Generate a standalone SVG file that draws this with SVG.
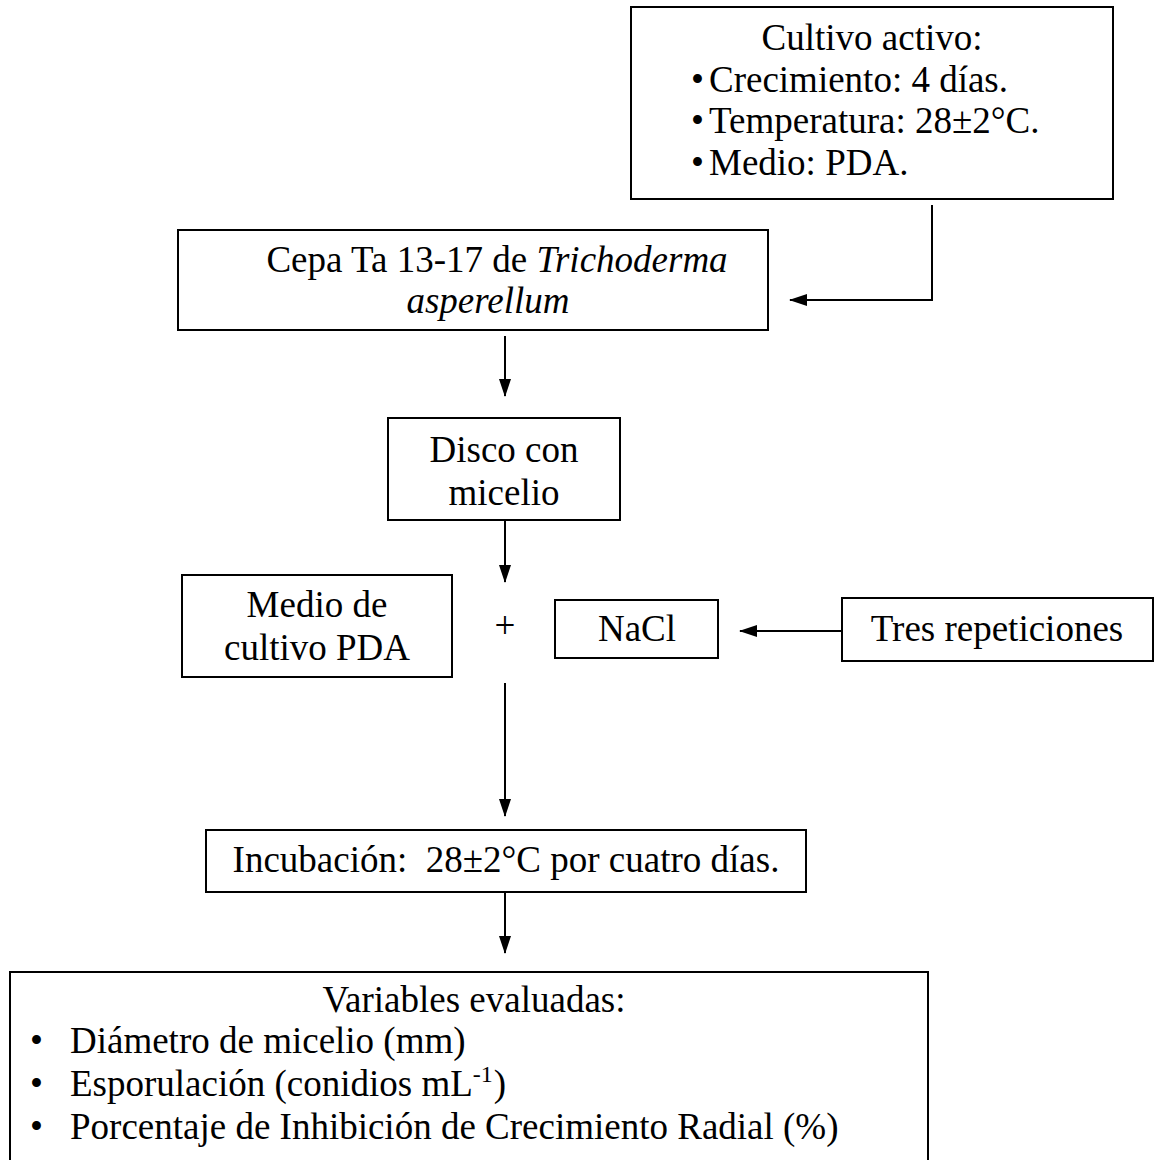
<svg xmlns="http://www.w3.org/2000/svg" width="1154" height="1160" viewBox="0 0 1154 1160">
<style>
.box{fill:#fff;stroke:#000;stroke-width:2}
.t{font-family:"Liberation Serif","Times New Roman",serif;font-size:37px;fill:#000}
.c{text-anchor:middle}
.ln{stroke:#000;stroke-width:2;fill:none}
</style>
<defs>
<marker id="ah" markerWidth="18" markerHeight="12" refX="17" refY="6" orient="auto" markerUnits="userSpaceOnUse">
<path d="M0,0 L18,6 L0,12 Z" fill="#000"/>
</marker>
</defs>
<rect width="1154" height="1160" fill="#fff"/>
<g id="connectors">
<polyline class="ln" points="932,205 932,300 790,300" marker-end="url(#ah)"/>
<line class="ln" x1="505" y1="336" x2="505" y2="396" marker-end="url(#ah)"/>
<line class="ln" x1="505" y1="520" x2="505" y2="582" marker-end="url(#ah)"/>
<line class="ln" x1="842" y1="631" x2="740" y2="631" marker-end="url(#ah)"/>
<line class="ln" x1="505" y1="683" x2="505" y2="816" marker-end="url(#ah)"/>
<line class="ln" x1="505" y1="892" x2="505" y2="953" marker-end="url(#ah)"/>
</g>
<g id="cultivo">
<rect class="box" x="631" y="7" width="482" height="192"/>
<text class="t c" x="872" y="50">Cultivo activo:</text>
<text class="t" x="691" y="92">•</text><text class="t" x="709" y="92">Crecimiento: 4 días.</text>
<text class="t" x="691" y="133">•</text><text class="t" x="709" y="133">Temperatura: 28±2°C.</text>
<text class="t" x="691" y="175">•</text><text class="t" x="709" y="175">Medio: PDA.</text>
</g>
<g id="cepa">
<rect class="box" x="178" y="230" width="590" height="100"/>
<text class="t c" x="497" y="272">Cepa Ta 13-17 de <tspan font-style="italic">Trichoderma</tspan></text>
<text class="t c" x="488" y="313" font-style="italic">asperellum</text>
</g>
<g id="disco">
<rect class="box" x="388" y="418" width="232" height="102"/>
<text class="t c" x="504" y="462">Disco con</text>
<text class="t c" x="504" y="505">micelio</text>
</g>
<g id="medio">
<rect class="box" x="182" y="575" width="270" height="102"/>
<text class="t c" x="317" y="617">Medio de</text>
<text class="t c" x="317" y="660">cultivo PDA</text>
</g>
<g id="plus">
<text class="t c" x="505" y="638">+</text>
</g>
<g id="nacl">
<rect class="box" x="555" y="600" width="163" height="58"/>
<text class="t c" x="637" y="641">NaCl</text>
</g>
<g id="tres">
<rect class="box" x="842" y="598" width="311" height="63"/>
<text class="t c" x="997" y="641">Tres repeticiones</text>
</g>
<g id="incubacion">
<rect class="box" x="206" y="830" width="600" height="62"/>
<text class="t c" x="506" y="872" xml:space="preserve">Incubación:  28±2°C por cuatro días.</text>
</g>
<g id="variables">
<rect class="box" x="10" y="972" width="918" height="200"/>
<text class="t c" x="474" y="1012">Variables evaluadas:</text>
<text class="t" x="30" y="1053">•</text><text class="t" x="70" y="1053">Diámetro de micelio (mm)</text>
<text class="t" x="30" y="1096">•</text><text class="t" x="70" y="1096">Esporulación (conidios mL<tspan font-size="24" dy="-14">-1</tspan><tspan dx="1" dy="14">)</tspan></text>
<text class="t" x="30" y="1139">•</text><text class="t" x="70" y="1139">Porcentaje de Inhibición de Crecimiento Radial (%)</text>
</g>
</svg>
